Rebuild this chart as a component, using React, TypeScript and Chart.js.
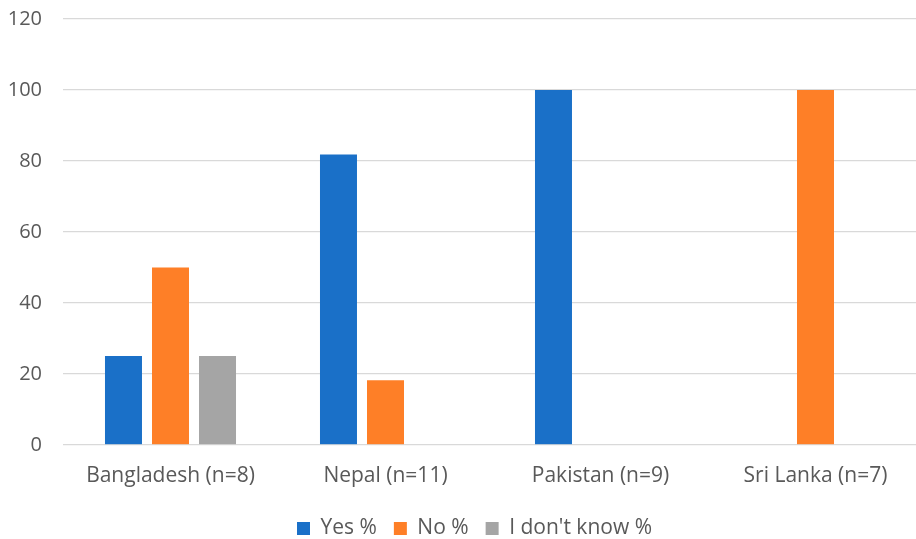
import React, { useEffect, useRef } from "react";
import { Chart, registerables } from "chart.js";

Chart.register(...registerables);

const categories = ["Bangladesh (n=8)", "Nepal (n=11)", "Pakistan (n=9)", "Sri Lanka (n=7)"];
const yesPct = [25, 81.8, 100, 0];
const noPct = [50, 18.2, 0, 100];
const dontKnowPct = [25, 0, 0, 0];
const seriesNames = ["Yes %", "No %", "I don't know %"];

const FONT = "'Open Sans', sans-serif";
const TEXT = "#595959";

// nudges the bottom legend right and down from where the layout puts it
const legendShift = {
  id: "legendShift",
  afterLayout(chart: any) {
    const lg = chart.legend;
    if (lg) {
      lg.left += 13;
      lg.right += 13;
      lg.top += 1;
      lg.bottom += 1;
    }
  },
};

export default function App() {
  const canvasRef = useRef<HTMLCanvasElement | null>(null);

  useEffect(() => {
    document.body.style.margin = "0";
    document.body.style.overflow = "hidden";
    const canvas = canvasRef.current;
    if (!canvas) return;
    const chart = new Chart(canvas, {
      type: "bar",
      data: {
        labels: categories,
        datasets: [
          { label: seriesNames[0], data: yesPct, backgroundColor: "#1a70c8" },
          { label: seriesNames[1], data: noPct, backgroundColor: "#fe7f27" },
          { label: seriesNames[2], data: dontKnowPct, backgroundColor: "#a5a5a5" },
        ],
      },
      options: {
        animation: false,
        responsive: false,
        maintainAspectRatio: false,
        datasets: { bar: { categoryPercentage: 0.656, barPercentage: 0.787 } },
        layout: { padding: { top: 19, right: 25, bottom: -9, left: 0 } },
        plugins: {
          tooltip: { enabled: false },
          legend: {
            position: "bottom",
            labels: {
              boxWidth: 13,
              boxHeight: 13,
              padding: 17,
              color: TEXT,
              font: { family: FONT, size: 21 },
            },
          },
        },
        scales: {
          x: {
            grid: { display: false },
            border: { display: false },
            ticks: { color: TEXT, font: { family: FONT, size: 21 }, padding: 11, maxRotation: 0 },
          },
          y: {
            min: 0,
            max: 120,
            ticks: { stepSize: 20, color: TEXT, font: { family: FONT, size: 20 }, padding: 21 },
            grid: { color: "#d9d9d9", lineWidth: 1.3, drawTicks: false },
            border: { display: false },
            afterFit: (scale: any) => {
              scale.width = 63;
              scale.paddingTop = 0;
              scale.paddingBottom = 0;
            },
          },
        },
      },
      plugins: [legendShift],
    });
    return () => chart.destroy();
  }, []);

  return (
    <div style={{ position: "absolute", left: 0, top: 0, width: 948, height: 539 }}>
      <canvas ref={canvasRef} width={948} height={539} style={{ width: 948, height: 539 }} />
    </div>
  );
}
